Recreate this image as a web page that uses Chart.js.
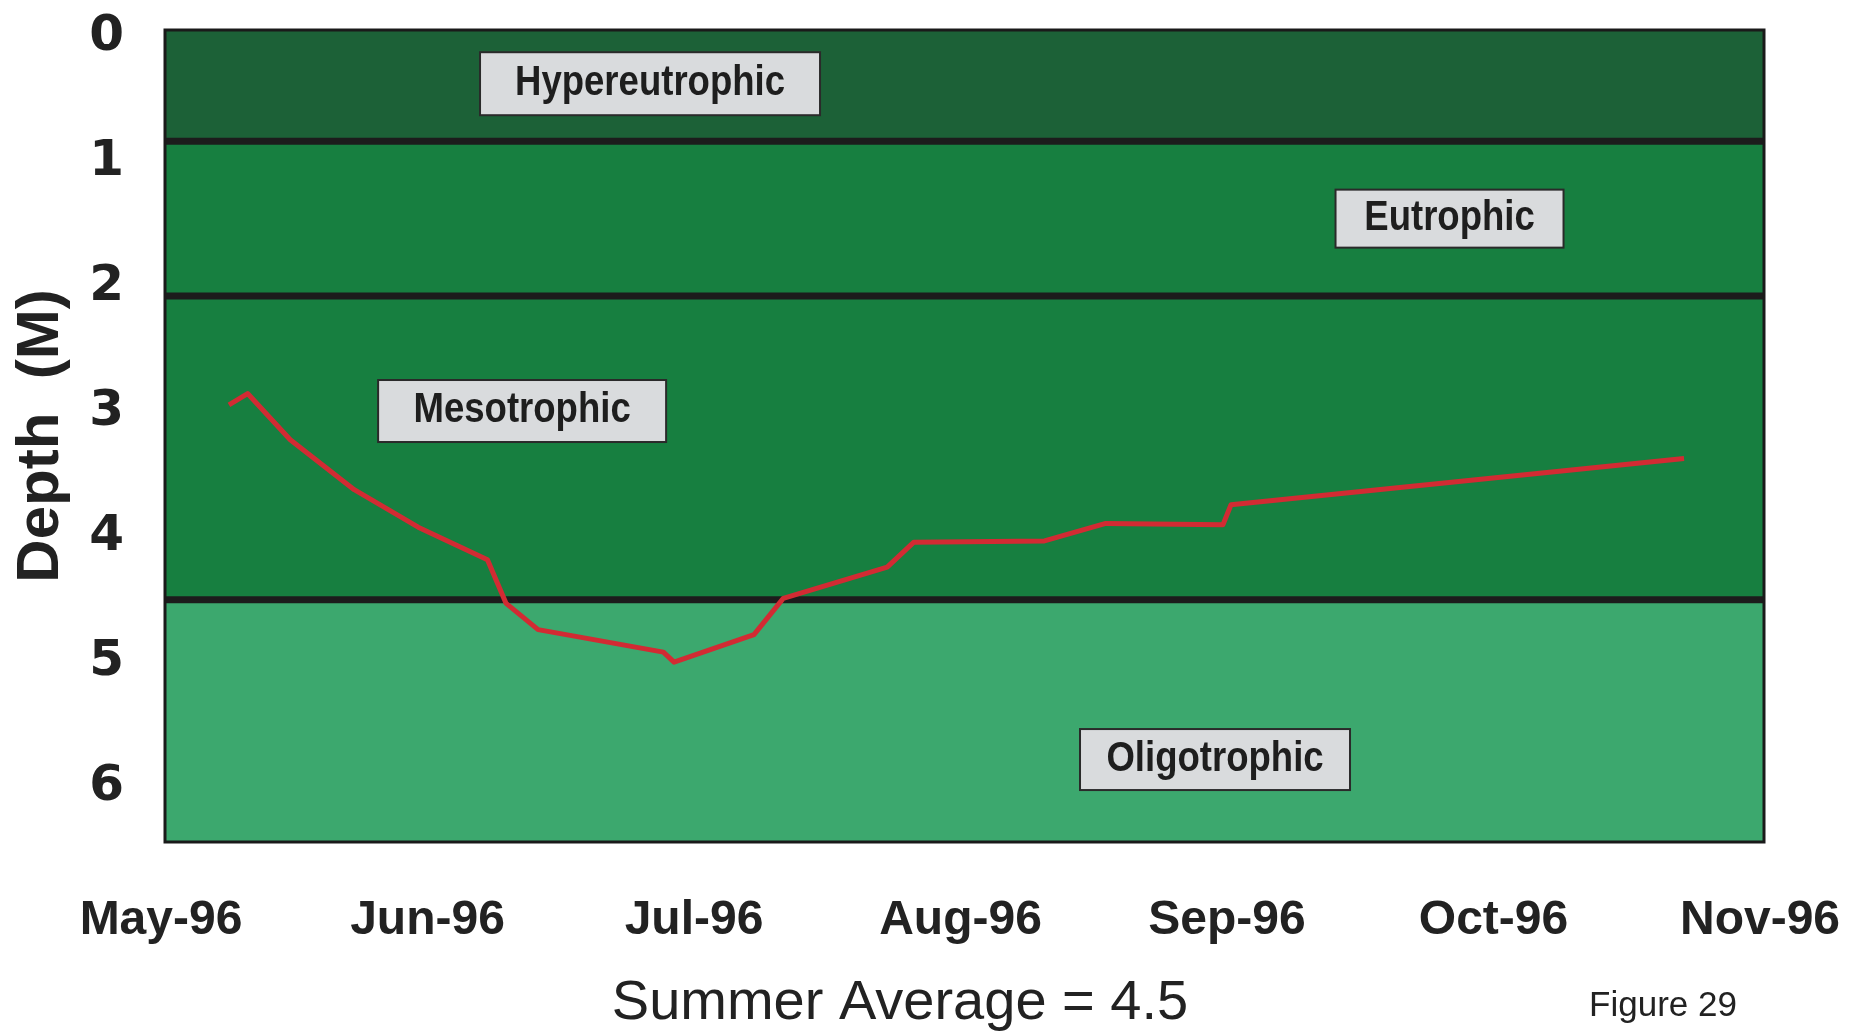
<!DOCTYPE html>
<html><head><meta charset="utf-8">
<script src="https://cdn.jsdelivr.net/npm/chart.js@4.4.1/dist/chart.umd.min.js"></script>
<style>html,body{margin:0;padding:0;background:#fff}#wrap{width:1858px;height:1031px}</style>
</head><body><div id="wrap"><canvas id="c" width="1858" height="1031"></canvas></div>
<script>
// ---- data ----
const monthLabels = ['May-96','Jun-96','Jul-96','Aug-96','Sep-96','Oct-96','Nov-96'];
const depthTicks = [0,1,2,3,4,5,6];
const sampleMonthPos = [0.24,0.31,0.47,0.71,0.95,1.21,1.28,1.40,1.87,1.91,2.21,2.32,2.71,2.81,3.30,3.53,3.97,4.00,5.70];
const secchiDepth   = [3.00,2.91,3.28,3.68,3.98,4.24,4.59,4.80,4.98,5.06,4.84,4.55,4.30,4.10,4.09,3.95,3.96,3.80,3.43];
const zoneNames = ['Hypereutrophic','Eutrophic','Mesotrophic','Oligotrophic'];
const zoneLowerDepth = [0.89,2.13,4.56,6.5];
const axisTitle = 'Depth  (M)';
const averageText = 'Summer Average = 4.5';
const figureText = 'Figure 29';

// ---- styling ----
const zoneColors = ['#1c6137','#177f40','#177f40','#3ca86e'];
const zoneLabelAnchors = [
  {month:1.82, depth:0.43, w:340, h:63},
  {month:4.82, depth:1.51, w:228, h:58},
  {month:1.34, depth:3.05, w:288, h:62},
  {month:3.94, depth:5.84, w:270, h:61}
];

const zoneDatasets = zoneLowerDepth.map((d, i) => ({
  data: [{x:0, y:d}, {x:monthLabels.length-1, y:d}],
  borderColor: i < zoneLowerDepth.length-1 ? '#1c1c1c' : 'rgba(0,0,0,0)',
  borderWidth: i < zoneLowerDepth.length-1 ? 7 : 0,
  backgroundColor: zoneColors[i],
  fill: i === 0 ? {value: 0} : '-1',
  pointRadius: 0,
  order: 1
}));

const lineDataset = {
  data: sampleMonthPos.map((m, i) => ({x: m, y: secchiDepth[i]})),
  borderColor: '#d22b33',
  borderWidth: 5,
  fill: false,
  pointRadius: 0,
  tension: 0,
  borderJoinStyle: 'round',
  order: 0
};

const zoneLabelPlugin = {
  id: 'zoneLabels',
  afterDatasetsDraw(chart, args, opts) {
    const {ctx, scales:{x, y}} = chart;
    opts.items.forEach((it, i) => {
      const cx = x.getPixelForValue(it.month), cy = y.getPixelForValue(it.depth);
      ctx.save();
      ctx.fillStyle = '#d9dbdd';
      ctx.fillRect(cx - it.w/2, cy - it.h/2, it.w, it.h);
      ctx.strokeStyle = '#2a2a2a'; ctx.lineWidth = 2;
      ctx.strokeRect(cx - it.w/2, cy - it.h/2, it.w, it.h);
      ctx.translate(cx, cy + 11);
      ctx.scale(0.87, 1);
      ctx.font = 'bold 42px "Liberation Sans", Arial, sans-serif';
      ctx.textAlign = 'center'; ctx.textBaseline = 'alphabetic';
      ctx.fillStyle = '#1e1e1e';
      ctx.fillText(zoneNames[i], 0, 0);
      ctx.restore();
    });
  }
};

const framePlugin = {
  id: 'frame',
  afterDatasetsDraw(chart) {
    const {ctx, chartArea:a} = chart;
    ctx.save();
    ctx.strokeStyle = '#1a1a1a'; ctx.lineWidth = 3;
    ctx.strokeRect(a.left, a.top, a.right - a.left, a.bottom - a.top);
    ctx.restore();
  }
};

const footerPlugin = {
  id: 'footerTexts',
  afterDraw(chart) {
    const {ctx} = chart;
    ctx.save();
    ctx.fillStyle = '#222';
    ctx.textAlign = 'center'; ctx.textBaseline = 'alphabetic';
    ctx.font = '56px "Liberation Sans", Arial, sans-serif';
    ctx.fillText(averageText, 900, 1019);
    ctx.font = '35px "Liberation Sans", Arial, sans-serif';
    ctx.fillText(figureText, 1663, 1016);
    ctx.restore();
  }
};

const zeroPad = s => { s.paddingTop = 0; s.paddingBottom = 0; s.paddingLeft = 0; s.paddingRight = 0; };

new Chart(document.getElementById('c'), {
  type: 'line',
  data: { datasets: [...zoneDatasets, lineDataset] },
  options: {
    responsive: false,
    devicePixelRatio: 1,
    animation: false,
    layout: { padding: {top: 30, right: 94, bottom: 0, left: 0} },
    plugins: {
      legend: {display: false},
      tooltip: {enabled: false},
      zoneLabels: {items: zoneLabelAnchors}
    },
    scales: {
      x: {
        type: 'linear', min: 0, max: monthLabels.length - 1,
        grid: {display: false, drawTicks: false},
        border: {display: false},
        afterBuildTicks: s => { s.ticks = monthLabels.map((_, i) => ({value: i})); },
        ticks: {
          autoSkip: false, maxRotation: 0,
          padding: 50,
          labelOffset: -4,
          color: '#222',
          font: {family: '"Liberation Sans", Arial, sans-serif', size: 48, weight: 'bold', lineHeight: 1.2},
          callback: v => monthLabels[v] ?? ''
        },
        afterFit: s => { s.height = 189; zeroPad(s); }
      },
      y: {
        type: 'linear', min: 0, max: 6.5, reverse: true,
        grid: {display: false, drawTicks: false},
        border: {display: false},
        afterBuildTicks: s => { s.ticks = depthTicks.map(v => ({value: v})); },
        ticks: {
          padding: 41,
          labelOffset: 7,
          color: '#222',
          font: {family: '"DejaVu Sans", sans-serif', size: 50, weight: 'bold', lineHeight: 1}
        },
        title: {
          display: true, text: axisTitle, color: '#222',
          padding: {top: 5, bottom: 0},
          font: {family: '"Liberation Sans", Arial, sans-serif', size: 60, weight: 'bold', lineHeight: 1.2}
        },
        afterFit: s => { s.width = 165; zeroPad(s); }
      }
    }
  },
  plugins: [zoneLabelPlugin, framePlugin, footerPlugin]
});
</script>
</body></html>
